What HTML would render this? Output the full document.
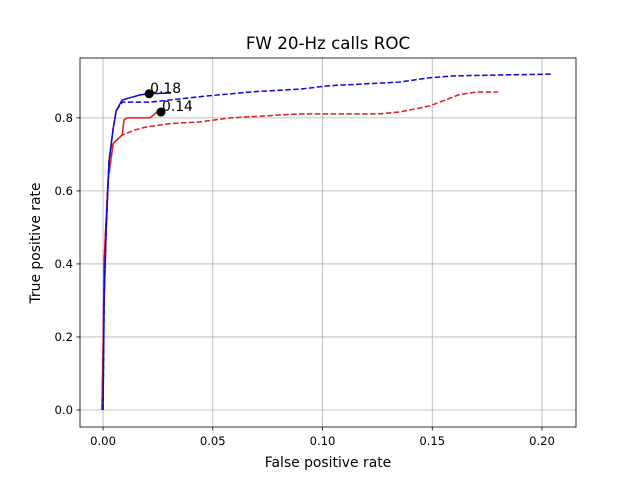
<!DOCTYPE html>
<html><head><meta charset="utf-8"><style>
body{margin:0;background:#fff}
svg{font-family:"DejaVu Sans","Liberation Sans",sans-serif}
</style></head><body>
<svg id="chart" width="640" height="480">
<rect width="640" height="480" fill="#fff"/>
<g id="grid"></g><g id="series"></g><g id="axes"></g>
<text x="328" y="49" text-anchor="middle" font-size="16.7">FW 20-Hz calls ROC</text>
<text x="328" y="467" text-anchor="middle" font-size="13.9">False positive rate</text>
<text x="40" y="243" text-anchor="middle" font-size="13.9" transform="rotate(-90 40 243)">True positive rate</text>
</svg>
<script>
const xTicks=[0,0.05,0.10,0.15,0.20];
const xTickLabels=["0.00","0.05","0.10","0.15","0.20"];
const yTicks=[0,0.2,0.4,0.6,0.8];
const yTickLabels=["0.0","0.2","0.4","0.6","0.8"];
const blueSolidFpr=[0,0.0005,0.0014,0.0027,0.0046,0.006,0.0087,0.0169,0.021,0.031];
const blueSolidTpr=[0,0.30,0.49,0.68,0.77,0.82,0.849,0.863,0.866,0.868];
const blueDashFpr=[0,0.0005,0.0014,0.0027,0.0046,0.006,0.0087,0.0215,0.044,0.067,0.09,0.103,0.135,0.149,0.16,0.185,0.205];
const blueDashTpr=[0,0.30,0.49,0.68,0.77,0.82,0.843,0.843,0.858,0.871,0.879,0.888,0.898,0.91,0.915,0.918,0.92];
const redSolidFpr=[-0.0005,0,0.0005,0.0023,0.0046,0.0087,0.0096,0.011,0.0214,0.0246,0.0264];
const redSolidTpr=[0,0.16,0.41,0.63,0.73,0.753,0.795,0.8,0.8,0.816,0.816];
const redDashFpr=[-0.0005,0,0.0005,0.0023,0.0046,0.0087,0.0146,0.0196,0.03,0.044,0.058,0.09,0.126,0.135,0.149,0.162,0.17,0.18];
const redDashTpr=[0,0.16,0.41,0.63,0.73,0.753,0.767,0.775,0.784,0.789,0.8,0.811,0.811,0.816,0.833,0.863,0.871,0.871];
const markerFpr=[0.021,0.0264];
const markerTpr=[0.866,0.816];
const markerLabels=["0.18","0.14"];
const L=80,R=576,T=58,B=427,x0=-0.0105,x1=0.2155,y0=-0.0466,y1=0.964;
const sx=v=>L+(v-x0)/(x1-x0)*(R-L), sy=v=>B-(v-y0)/(y1-y0)*(B-T);
const NS="http://www.w3.org/2000/svg";
function mk(tag,attrs,parent){const e=document.createElementNS(NS,tag);for(const k in attrs)e.setAttribute(k,attrs[k]);parent.appendChild(e);return e;}
const grid=document.getElementById('grid'),axes=document.getElementById('axes'),ser=document.getElementById('series');
xTicks.forEach((v,i)=>{const x=sx(v);
 const g=mk('line',{x1:x,x2:x,y1:T,y2:B,stroke:'#b0b0b0','stroke-width':0.8},grid);
 
 mk('line',{x1:x,x2:x,y1:B,y2:B+3.5,stroke:'#000','stroke-width':0.8},axes);
 const t=mk('text',{x:x,y:B+18,'text-anchor':'middle','font-size':11.6},axes);t.textContent=xTickLabels[i];
 });
yTicks.forEach((v,i)=>{const y=sy(v);
 const g=mk('line',{x1:L,x2:R,y1:y,y2:y,stroke:'#b0b0b0','stroke-width':0.8},grid);
 
 mk('line',{x1:L-3.5,x2:L,y1:y,y2:y,stroke:'#000','stroke-width':0.8},axes);
 const t=mk('text',{x:L-7,y:y+4,'text-anchor':'end','font-size':11.6},axes);t.textContent=yTickLabels[i];
 });
const frame=mk('rect',{x:L,y:T,width:R-L,height:B-T,fill:'none',stroke:'#000','stroke-width':0.8},axes);

function line(xs,ys,color,dash,name){const p=mk('polyline',{points:xs.map((v,i)=>sx(v)+','+sy(ys[i])).join(' '),fill:'none',stroke:color,'stroke-width':1.5},ser);
 if(dash)p.setAttribute('stroke-dasharray','5.5,2.4');
 }
line(redDashFpr,redDashTpr,'#e41a1c',true,'red-dashed-roc');
line(redSolidFpr,redSolidTpr,'#e41a1c',false,'red-solid-roc');
line(blueDashFpr,blueDashTpr,'#0a0ae0',true,'blue-dashed-roc');
line(blueSolidFpr,blueSolidTpr,'#0a0ae0',false,'blue-solid-roc');
markerFpr.forEach((v,i)=>{const c=mk('circle',{cx:sx(v),cy:sy(markerTpr[i]),r:4.5,fill:'#000'},ser);
 
 const t=mk('text',{x:sx(v)+1,y:sy(markerTpr[i])-1,'font-size':13.9},ser);t.textContent=markerLabels[i];
 });
</script>
</body></html>
